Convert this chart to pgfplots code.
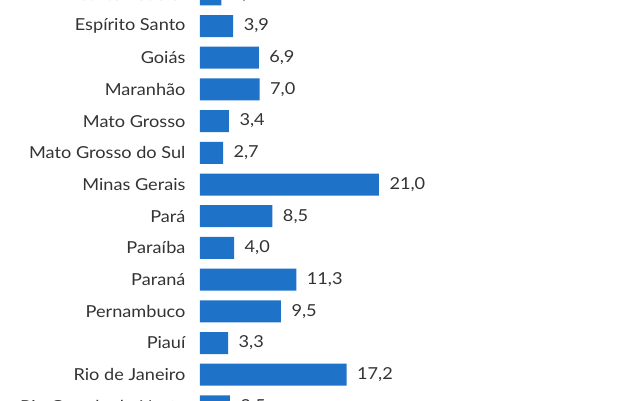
\documentclass[border=0pt]{standalone}
\usepackage{fontspec}
\setmainfont{Lato}[FakeStretch=1.1]
\usepackage{pgfplots}
\pgfplotsset{compat=1.18}
\definecolor{barblue}{RGB}{30,115,200}
\definecolor{txt}{RGB}{51,51,51}
\begin{document}
\begin{tikzpicture}
\clip (0,0) rectangle (630pt,400pt);
\useasboundingbox (0,0) rectangle (630pt,400pt);
\begin{axis}[
  at={(200pt,421.55pt)}, anchor=north west,
  scale only axis, width=179pt, height=443.8pt,
  xbar, bar width=22pt,
  xmin=0, xmax=21,
  ymin=-0.5, ymax=13.5, y dir=reverse,
  axis line style={draw=none},
  hide x axis,
  ytick={0,...,13},
  yticklabels={Distrito Federal,Espírito Santo,Goiás,Maranhão,Mato Grosso,Mato Grosso do Sul,Minas Gerais,Pará,Paraíba,Paraná,Pernambuco,Piauí,Rio de Janeiro,Rio Grande do Norte},
  yticklabel style={font=\fontsize{16.5}{18}\selectfont, text=txt, xshift=-11pt},
  major tick length=0pt,
  tick style={draw=none},
  nodes near coords,
  nodes near coords style={font=\fontsize{16.5}{18}\selectfont, text=txt, xshift=7pt,
    /pgf/number format/.cd, fixed, fixed zerofill, precision=1, use comma, assume math mode=true},
  clip=false,
]
\addplot[fill=barblue, draw=none] coordinates {
(2.5,0) (3.9,1) (6.9,2) (7.0,3) (3.4,4) (2.7,5) (21.0,6) (8.5,7) (4.0,8) (11.3,9) (9.5,10) (3.3,11) (17.2,12) (3.5,13)};
\end{axis}
\end{tikzpicture}
\end{document}
